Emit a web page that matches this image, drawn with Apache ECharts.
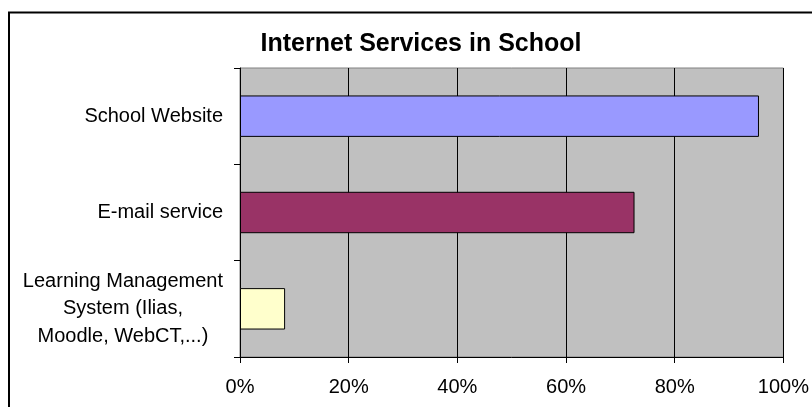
<!DOCTYPE html>
<html>
<head>
<meta charset="utf-8">
<script src="https://cdn.jsdelivr.net/npm/echarts@6/dist/echarts.min.js"></script>
<style>
html,body{margin:0;padding:0;background:#fff;}
#chart{width:812px;height:407px;}
</style>
</head>
<body>
<div id="chart"></div>
<script>
const titleText = 'Internet Services in School';
const categories = ['School Website', 'E-mail service', 'Learning Management\nSystem (Ilias,\nMoodle, WebCT,...)'];
const values = [95.5, 72.6, 8.3];
const xTicks = [0, 20, 40, 60, 80, 100];
const palette = ['#9999FF', '#993366', '#FFFFCC'];

const FONT = 'Liberation Sans, Arial, sans-serif';
const chart = echarts.init(document.getElementById('chart'), null, {renderer: 'canvas'});
chart.setOption({
  animation: false,
  backgroundColor: '#ffffff',
  title: {
    text: titleText,
    left: 416,
    top: 27,
    textAlign: 'center',
    textStyle: {fontFamily: FONT, fontSize: 25, fontWeight: 'bold', color: '#000'}
  },
  graphic: [{
    type: 'rect',
    shape: {x: 9, y: 12.5, width: 900, height: 500},
    style: {fill: 'none', stroke: '#000', lineWidth: 2},
    silent: true
  }],
  grid: {
    left: 240, right: 25, top: 68, bottom: 50,
    show: true, backgroundColor: '#C0C0C0', borderColor: '#808080', borderWidth: 1
  },
  xAxis: {
    type: 'value',
    min: xTicks[0], max: xTicks[xTicks.length - 1], interval: xTicks[1] - xTicks[0],
    axisLine: {show: true, lineStyle: {color: '#000', width: 1}},
    axisTick: {show: true, length: 6, lineStyle: {color: '#000'}},
    splitLine: {show: true, lineStyle: {color: '#000', width: 1}},
    axisLabel: {formatter: '{value}%', margin: 20, fontFamily: FONT, fontSize: 20, color: '#000'}
  },
  yAxis: {
    type: 'category',
    inverse: true,
    data: categories,
    axisLine: {show: true, lineStyle: {color: '#000', width: 1}},
    axisTick: {show: true, length: 6, alignWithLabel: false, lineStyle: {color: '#000'}},
    splitLine: {show: false},
    axisLabel: {
      margin: 17, fontFamily: FONT, fontSize: 20, color: '#000',
      formatter: function (v) { return v.indexOf('\n') >= 0 ? '{c|' + v + '}' : v; },
      rich: {c: {align: 'center', fontFamily: FONT, fontSize: 20, lineHeight: 27.5, color: '#000'}}
    }
  },
  series: [{
    type: 'bar',
    barCategoryGap: '57%',
    data: values.map((v, i) => ({value: v, itemStyle: {color: palette[i]}})),
    itemStyle: {borderColor: '#000', borderWidth: 1}
  }]
});
</script>
</body>
</html>
